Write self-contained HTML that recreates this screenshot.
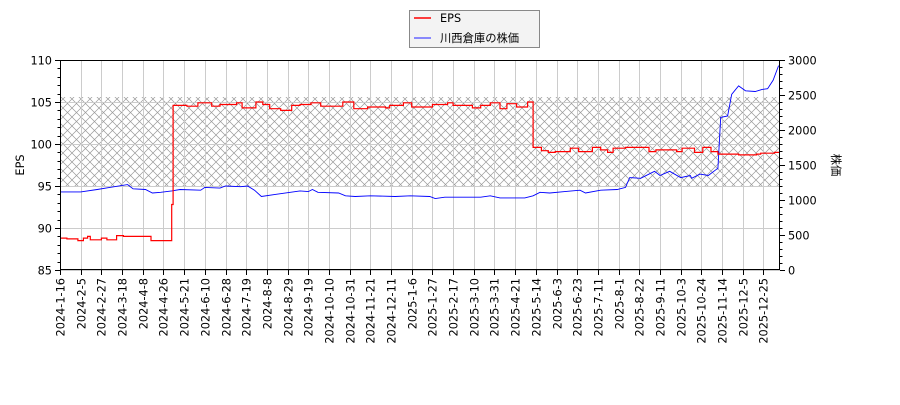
<!DOCTYPE html>
<html><head><meta charset="utf-8"><style>
body{margin:0;background:#fff;font-family:"Liberation Sans","Noto Sans CJK JP",sans-serif;}
svg text{font-family:"DejaVu Sans","Noto Sans CJK JP",sans-serif;font-size:11.3px;fill:#000;}
</style></head><body>
<svg id="c" width="900" height="400" xmlns="http://www.w3.org/2000/svg">
<defs><pattern id="hatch" width="9" height="9" patternUnits="userSpaceOnUse">
<path d="M0,0L9,9M9,0L0,9" stroke="#999" stroke-width="0.7"/></pattern></defs>
<rect x="60" y="97" width="720" height="90" fill="url(#hatch)"/>
<g id="grid"></g><g id="series"></g><g id="axes"></g>
<g>
<rect x="409.5" y="10.5" width="130" height="37" fill="#f3f3f3" stroke="#888"/>
<line x1="414" y1="18" x2="431" y2="18" stroke="red" stroke-width="1.5"/>
<text x="440" y="22">EPS</text>
<line x1="414" y1="38" x2="431" y2="38" stroke="#6666ff" stroke-width="1.5"/>
<text x="440" y="42">川西倉庫の株価</text>
</g>
<text transform="translate(24,165) rotate(-90)" text-anchor="middle">EPS</text>
<text transform="translate(832,165) rotate(90)" text-anchor="middle">株価</text>
</svg>
<script>
const tickLabels=["2024-1-16","2024-2-5","2024-2-27","2024-3-18","2024-4-8","2024-4-26","2024-5-21","2024-6-10","2024-6-28","2024-7-19","2024-8-8","2024-8-29","2024-9-19","2024-10-10","2024-10-31","2024-11-21","2024-12-11","2025-1-6","2025-1-27","2025-2-17","2025-3-10","2025-3-31","2025-4-21","2025-5-14","2025-6-3","2025-6-23","2025-7-11","2025-8-1","2025-8-22","2025-9-11","2025-10-3","2025-10-24","2025-11-14","2025-12-5","2025-12-25"];
const epsDays=[0,5,13,17,20,22,30,34,41,46,66,81,82,92,100,110,116,128,132,142,147,152,160,168,174,182,189,205,213,223,236,239,249,255,270,281,285,299,305,312,319,324,331,339,343,349,354,359,370,376,386,392,397,401,410,427,432,447,451,460,466,472,477,492,505,508,518];
const epsValues=[88.8,88.7,88.5,88.8,89.0,88.6,88.8,88.6,89.1,89.0,88.5,92.8,104.6,104.5,104.9,104.5,104.7,104.9,104.3,105.0,104.7,104.2,104.0,104.6,104.7,104.9,104.5,105.0,104.2,104.4,104.3,104.6,104.9,104.4,104.7,104.9,104.6,104.3,104.6,104.9,104.2,104.8,104.4,105.0,99.6,99.2,99.0,99.1,99.5,99.1,99.6,99.3,99.0,99.5,99.6,99.1,99.3,99.1,99.5,99.0,99.6,99.1,98.8,98.7,98.8,98.9,99.0];
const priceDays=[0,15,27,36,49,53,62,67,73,81,87,102,105,116,120,131,136,141,146,156,167,174,180,183,187,202,207,214,225,243,254,268,272,279,305,312,319,337,343,348,355,366,377,381,392,404,410,413,421,431,435,442,450,457,458,464,470,476,477,479,484,487,492,497,504,509,513,517,521];
const priceValues=[1115,1115,1150,1180,1220,1160,1150,1100,1110,1130,1150,1140,1180,1170,1200,1190,1200,1140,1050,1080,1110,1130,1120,1150,1110,1100,1060,1050,1060,1050,1060,1050,1020,1040,1040,1060,1030,1030,1060,1110,1100,1120,1140,1100,1140,1150,1180,1320,1310,1410,1350,1410,1320,1350,1310,1370,1350,1440,1450,2180,2200,2510,2630,2560,2550,2580,2590,2710,2920];
const leftTicks=[85,90,95,100,105,110];
const rightTicks=[0,500,1000,1500,2000,2500,3000];
const X0=60,X1=780,Y0=270,Y1=60,NDAYS=522,TICKSTEP=15;
const xs=d=>X0+d*(X1-X0)/NDAYS;
const yl=v=>Y0-(v-85)*(Y0-Y1)/25;
const yr=v=>Y0-v*(Y0-Y1)/3000;
const NS="http://www.w3.org/2000/svg";
function mk(tag,attrs,parent){const e=document.createElementNS(NS,tag);for(const k in attrs)e.setAttribute(k,attrs[k]);parent.appendChild(e);return e;}
const grid=document.getElementById('grid'),axes=document.getElementById('axes'),series=document.getElementById('series');
leftTicks.forEach(v=>{const y=Math.round(yl(v))+0.5;
 const g=mk('line',{x1:X0,x2:X1,y1:y,y2:y,stroke:'#ccc'},grid);
 
 
 mk('line',{x1:X0-5,x2:X0,y1:y,y2:y,stroke:'#000'},axes);
 const t=mk('text',{x:X0-8,y:y+4,'text-anchor':'end'},axes);t.textContent=v;
 
 });
for(let v=85;v<=110;v++){const y=Math.round(yl(v))+0.5;mk('line',{x1:X0-2.5,x2:X0,y1:y,y2:y,stroke:'#000'},axes);}
rightTicks.forEach(v=>{const y=Math.round(yr(v))+0.5;
 mk('line',{x1:X1,x2:X1+5,y1:y,y2:y,stroke:'#000'},axes);
 const t=mk('text',{x:X1+8,y:y+4},axes);t.textContent=v;
 
 });
for(let v=0;v<=3000;v+=100){const y=Math.round(yr(v))+0.5;mk('line',{x1:X1,x2:X1+2.5,y1:y,y2:y,stroke:'#000'},axes);}
tickLabels.forEach((lab,i)=>{const x=Math.round(xs(i*TICKSTEP))+0.5;
 const g=mk('line',{x1:x,x2:x,y1:Y1,y2:Y0,stroke:'#ccc'},grid);
 
 
 mk('line',{x1:x,x2:x,y1:Y0,y2:Y0+5,stroke:'#000'},axes);
 const t=mk('text',{transform:`translate(${x+4},${Y0+8}) rotate(-90)`,'text-anchor':'end'},axes);t.textContent=lab;
 
 });
const frame=mk('rect',{x:X0+0.5,y:Y1+0.5,width:X1-X0-1,height:Y0-Y1-1,fill:'none',stroke:'#000'},axes);


function stepPath(days,vals,fy){let d='';for(let i=0;i<days.length;i++){const x=xs(days[i]).toFixed(1),y=fy(vals[i]).toFixed(1);
 if(i===0)d+=`M${x},${y}`;else d+=`H${x}V${y}`;}return d+`H${X1}`;}
function linePath(days,vals,fy){return days.map((d,i)=>(i?'L':'M')+xs(d).toFixed(1)+','+fy(vals[i]).toFixed(1)).join('');}
const pl=mk('path',{d:linePath(priceDays,priceValues,yr),fill:'none',stroke:'blue','stroke-width':0.9},series);


const el=mk('path',{d:stepPath(epsDays,epsValues,yl),fill:'none',stroke:'red','stroke-width':1.2},series);


</script>
</body></html>
